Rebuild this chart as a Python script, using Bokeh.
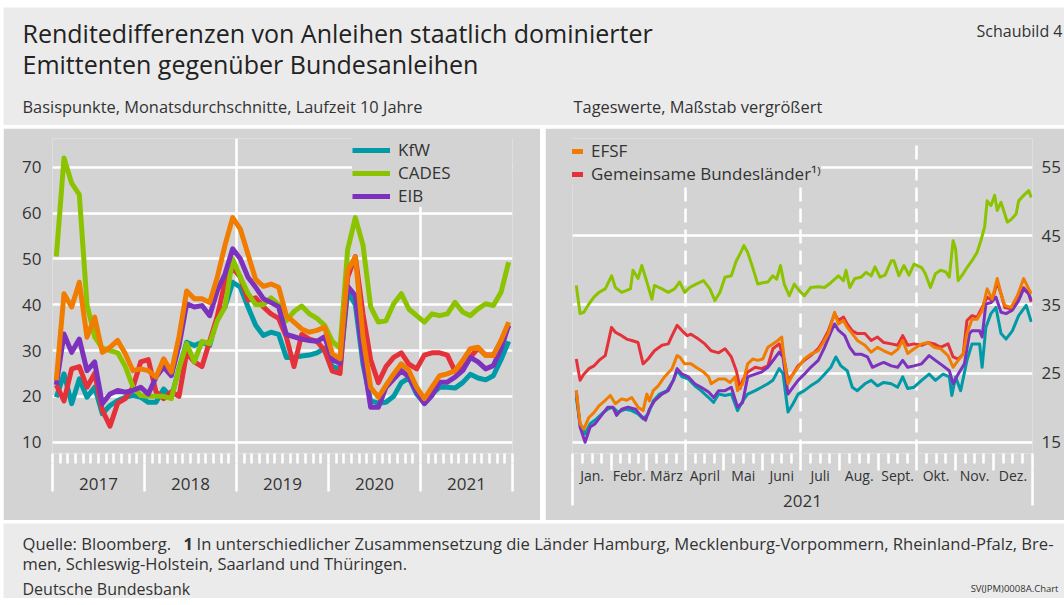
import pandas as pd
from bokeh.plotting import figure
from bokeh.models import (Range1d, FixedTicker, LinearAxis, Label, Spacer,
                          Legend, LegendItem, CustomJSTickFormatter)
from bokeh.layouts import column, row
from bokeh.embed import file_html
from bokeh.resources import INLINE

# ---------------- left panel: monthly averages, Jan 2017 - Dec 2021 (basis points) ----------------
kfw_m = [19.8, 24.9, 18.4, 23.8, 19.8, 22.0, 16.2, 18.0, 19.1, 19.8,
         20.2, 19.8, 18.7, 18.7, 21.6, 19.8, 26.0, 31.8, 31.1, 31.8,
         31.1, 37.3, 39.5, 44.9, 43.8, 39.5, 35.5, 33.3, 34.0, 33.5,
         28.5, 28.5, 28.8, 29.0, 29.5, 30.5, 26.5, 26.0, 43.0, 40.0,
         27.0, 19.0, 18.5, 18.7, 20.0, 23.0, 24.0, 20.5, 18.5, 20.5,
         22.0, 22.0, 21.8, 23.0, 24.8, 24.0, 23.6, 24.5, 28.0, 32.0]
cades_m = [50.5, 72.0, 66.5, 64.0, 40.0, 33.0, 30.5, 30.0, 29.5, 26.5,
           22.0, 20.2, 20.0, 20.0, 20.0, 19.5, 26.0, 31.5, 27.5, 32.0,
           31.5, 36.5, 39.5, 50.0, 46.0, 42.5, 40.0, 40.0, 41.5, 40.0,
           36.5, 38.5, 39.7, 38.0, 37.0, 35.5, 32.0, 30.5, 52.0, 59.0,
           53.0, 39.5, 36.2, 36.5, 40.2, 42.4, 39.0, 37.6, 36.2, 38.0,
           37.6, 38.0, 40.5, 38.4, 37.6, 39.1, 40.2, 39.8, 42.7, 49.3]
eib_m = [22.5, 33.6, 29.6, 32.5, 25.6, 27.5, 18.4, 20.5, 21.3, 20.9,
         21.3, 22.0, 20.5, 24.2, 26.4, 24.5, 31.0, 40.2, 39.5, 39.8,
         37.6, 43.1, 46.7, 52.2, 50.0, 46.0, 43.8, 41.3, 40.5, 39.5,
         33.5, 33.0, 32.5, 32.2, 32.0, 33.0, 28.0, 27.2, 44.0, 42.0,
         28.5, 17.6, 17.6, 22.0, 23.8, 25.6, 24.2, 20.9, 18.4, 20.2,
         23.1, 23.1, 24.2, 25.6, 28.5, 27.5, 26.0, 26.7, 30.4, 35.5]
efsf_m = [23.5, 42.4, 39.5, 44.9, 32.9, 37.3, 29.6, 30.7, 32.2, 29.3,
          25.6, 26.0, 25.6, 24.2, 28.2, 25.3, 33.0, 43.0, 41.3, 41.3,
          40.5, 46.0, 53.0, 59.0, 56.5, 51.0, 45.5, 44.0, 44.5, 43.8,
          37.6, 36.2, 34.7, 34.0, 34.4, 35.1, 29.3, 28.2, 47.5, 50.4,
          33.0, 22.0, 19.8, 22.4, 24.9, 27.1, 25.6, 22.0, 19.5, 22.0,
          24.5, 24.9, 25.6, 27.8, 30.4, 30.7, 28.9, 28.9, 32.2, 36.2]
gb_m = [22.5, 19.0, 26.0, 26.5, 22.0, 25.0, 17.0, 13.5, 18.5, 19.5,
        22.0, 27.5, 28.0, 21.0, 19.5, 21.0, 20.0, 29.5, 27.5, 26.5,
        32.0, 37.5, 45.0, 48.0, 46.0, 41.0, 41.5, 39.5, 38.0, 37.0,
        33.0, 26.5, 33.5, 32.5, 32.0, 30.0, 25.5, 25.0, 46.0, 50.5,
        38.0, 28.0, 23.0, 26.5, 28.5, 29.5, 27.0, 26.0, 29.0, 29.5,
        29.5, 29.0, 25.5, 26.0, 28.5, 30.5, 29.0, 29.0, 32.0, 35.5]
year_labels = ["2017", "2018", "2019", "2020", "2021"]
left_yticks = [10, 20, 30, 40, 50, 60, 70]

# ---------------- right panel: daily values 2021 (day of year, basis points) ----------------
kfw_day = [3, 6, 10, 14, 19, 25, 28, 32, 36, 42, 47, 52, 56, 60, 64, 69, 75, 80, 83, 87,
           92, 97, 102, 108, 112, 116, 121, 126, 131, 135, 139, 145, 150, 155, 159, 164, 167, 171, 175, 179,
           184, 189, 195, 200, 205, 209, 213, 218, 222, 226, 232, 237, 242, 247, 253, 258, 262, 266, 271, 277,
           283, 288, 294, 299, 301, 304, 308, 313, 317, 323, 325, 328, 332, 336, 340, 344, 349, 354, 360, 364]
kfw_d = [21.5, 17.7, 16.2, 17.7, 18.4, 19.4, 19.8, 20.1, 19.4, 19.8, 19.6, 19.1, 18.4, 19.1, 21.0, 22.0, 22.5, 24.0, 25.4, 24.5,
         24.2, 23.2, 22.5, 21.5, 20.8, 22.0, 21.8, 22.0, 19.6, 21.0, 22.0, 22.5, 23.0, 23.5, 24.0, 25.7, 25.0, 19.4, 20.6, 22.0,
         22.5, 23.2, 23.9, 24.9, 25.9, 27.4, 26.1, 25.4, 23.0, 22.5, 23.5, 24.0, 23.2, 23.7, 23.5, 23.0, 24.5, 22.8, 23.0, 24.0,
         24.9, 24.0, 24.9, 24.5, 21.8, 24.5, 22.5, 26.9, 29.3, 29.3, 25.9, 31.7, 33.7, 34.6, 30.8, 30.0, 31.2, 33.4, 34.9, 32.5]
cades_day = [3, 6, 9, 13, 17, 21, 26, 31, 34, 39, 46, 48, 52, 55, 59, 63, 65, 71, 76, 81,
             85, 89, 93, 98, 104, 109, 113, 117, 121, 126, 130, 133, 136, 139, 143, 147, 151, 155, 159, 162,
             165, 168, 172, 176, 180, 184, 189, 195, 200, 205, 211, 215, 217, 220, 224, 229, 233, 237, 240, 244,
             248, 253, 255, 259, 263, 267, 271, 277, 280, 284, 288, 292, 296, 299, 302, 304, 306, 310, 313, 317,
             321, 324, 327, 329, 332, 335, 337, 340, 343, 345, 348, 352, 354, 358, 362, 364]
cades_d = [37.8, 33.7, 33.9, 35.1, 36.1, 36.8, 37.3, 39.2, 37.5, 36.8, 37.3, 40.0, 38.8, 40.7, 38.3, 35.8, 37.8, 37.3, 36.8, 37.3,
           38.3, 36.8, 37.5, 38.0, 38.5, 37.3, 35.6, 36.8, 39.0, 39.2, 41.4, 42.4, 43.6, 42.6, 40.4, 38.0, 38.2, 38.3, 39.2, 38.7,
           40.7, 38.0, 36.3, 38.0, 37.0, 36.3, 37.5, 37.6, 37.5, 38.2, 39.2, 38.5, 40.0, 37.5, 38.8, 39.0, 39.7, 39.2, 40.5, 39.0,
           39.3, 41.4, 41.4, 39.2, 40.7, 39.3, 40.9, 40.4, 39.5, 37.5, 39.5, 40.0, 39.8, 39.0, 44.3, 43.1, 38.5, 39.5, 40.4, 41.4,
           42.6, 44.3, 46.3, 50.1, 49.4, 50.9, 48.7, 49.9, 48.2, 47.0, 47.4, 48.2, 50.1, 50.9, 51.6, 50.6]
eib_day = [3, 6, 10, 14, 18, 23, 28, 32, 35, 39, 44, 50, 54, 58, 61, 65, 71, 76, 80, 83,
           87, 92, 97, 102, 108, 112, 116, 121, 126, 131, 135, 139, 145, 150, 155, 160, 164, 167, 171, 175,
           179, 184, 189, 195, 200, 205, 208, 211, 216, 220, 224, 229, 234, 238, 244, 247, 253, 258, 262, 266,
           271, 277, 283, 288, 294, 299, 302, 306, 311, 315, 317, 323, 325, 328, 332, 336, 340, 344, 349, 354,
           358, 362, 364]
eib_d = [22.5, 17.2, 15.0, 17.2, 17.7, 18.9, 20.1, 20.1, 18.9, 19.8, 20.1, 19.8, 18.9, 18.2, 19.8, 21.0, 22.0, 22.5, 24.0, 25.7,
         24.9, 24.5, 23.5, 23.0, 22.3, 21.5, 22.5, 22.5, 23.0, 20.1, 20.8, 24.5, 24.9, 25.2, 25.9, 27.1, 28.1, 27.4, 22.0, 23.0,
         24.0, 24.9, 25.9, 26.9, 28.8, 31.0, 32.2, 31.3, 30.5, 28.8, 27.8, 27.8, 27.4, 25.9, 26.4, 26.6, 26.1, 25.9, 26.9, 25.9,
         26.1, 26.4, 27.6, 26.9, 26.1, 25.4, 23.5, 24.9, 26.4, 30.8, 31.2, 31.2, 30.3, 35.1, 35.3, 36.1, 33.9, 33.7, 34.2, 35.6,
         37.3, 36.6, 35.6]
efsf_day = [3, 6, 9, 13, 17, 21, 26, 30, 34, 39, 43, 47, 52, 56, 59, 61, 64, 68, 73, 79,
            83, 85, 89, 94, 98, 104, 108, 110, 116, 121, 125, 129, 131, 135, 139, 143, 147, 151, 155, 159,
            163, 166, 168, 171, 175, 179, 184, 189, 195, 199, 203, 208, 211, 215, 218, 222, 226, 232, 237, 242,
            247, 253, 258, 262, 266, 271, 277, 282, 287, 292, 298, 302, 306, 310, 313, 317, 321, 325, 329, 333,
            337, 340, 343, 348, 353, 358, 362, 364]
efsf_d = [22.5, 17.7, 16.9, 18.6, 19.3, 20.3, 21.1, 21.8, 20.6, 21.3, 21.1, 21.5, 20.1, 19.6, 22.0, 21.0, 22.5, 23.2, 24.5, 25.7,
          27.6, 27.4, 26.4, 26.4, 25.9, 25.2, 24.5, 23.5, 24.2, 24.2, 23.7, 24.5, 22.5, 23.5, 26.4, 27.1, 26.9, 27.1, 28.8, 29.3,
          29.8, 30.3, 27.0, 23.5, 24.9, 25.9, 27.1, 27.8, 28.3, 29.5, 30.8, 33.9, 32.2, 32.7, 31.7, 30.8, 29.8, 29.1, 28.1, 28.8,
          28.3, 27.8, 28.5, 29.8, 27.9, 28.6, 29.3, 29.5, 28.8, 28.6, 27.6, 25.9, 26.9, 27.8, 30.8, 32.9, 32.9, 34.1, 37.3, 35.8,
          38.8, 36.6, 34.9, 34.6, 36.3, 38.8, 37.3, 36.6]
gb_day = [3, 6, 9, 13, 17, 21, 26, 31, 34, 39, 43, 47, 52, 56, 60, 65, 71, 76, 79, 83,
          87, 91, 94, 100, 105, 110, 116, 121, 126, 130, 133, 135, 139, 145, 150, 155, 159, 164, 168, 171,
          175, 179, 184, 189, 195, 199, 203, 208, 211, 215, 218, 222, 226, 232, 237, 242, 247, 253, 258, 262,
          266, 271, 277, 282, 287, 292, 298, 302, 306, 310, 313, 317, 321, 325, 329, 333, 337, 340, 343, 348,
          353, 358, 362, 364]
gb_d = [27.1, 24.0, 24.9, 25.7, 26.1, 26.9, 27.6, 31.7, 31.0, 30.5, 30.0, 29.8, 29.5, 26.4, 27.1, 28.3, 29.1, 29.3, 30.5, 32.0,
        31.2, 30.5, 30.7, 30.0, 29.3, 28.3, 28.0, 28.6, 27.4, 25.4, 22.8, 24.0, 25.2, 25.9, 25.7, 26.1, 28.6, 29.3, 27.0, 24.0,
        24.9, 26.1, 26.9, 27.6, 28.6, 29.8, 31.2, 33.7, 32.7, 33.2, 32.2, 31.2, 30.8, 30.8, 29.8, 30.3, 29.5, 29.3, 29.1, 30.5,
        29.1, 29.3, 29.1, 29.5, 29.3, 28.8, 29.3, 27.4, 27.1, 27.8, 32.7, 33.4, 33.2, 34.6, 36.1, 35.6, 38.3, 36.6, 34.6, 34.4,
        35.6, 37.5, 36.6, 35.4]
month_names = ["Jan.", "Febr.", "März", "April", "Mai", "Juni", "Juli", "Aug.", "Sept.", "Okt.", "Nov.", "Dez."]
month_starts = [0, 31, 59, 90, 120, 151, 181, 212, 243, 273, 304, 334, 365]
right_year = "2021"
right_yticks = [15, 25, 35, 45, 55]

# ---------------- styling ----------------
FONT = "Open Sans"
TXT = "#333333"
PANEL = "#d3d3d3"
LIGHT = "#ebebeb"
C_KFW, C_CADES, C_EIB, C_EFSF, C_GB = "#009aa6", "#8cc300", "#7d32be", "#f07c00", "#e5323a"
W = 1061
HDR_H, PAN_H, FTR_H, GAP = 118, 392, 75, 3
LEFT_W, RIGHT_W, MID_GAP = 537, 519, 5
TOP, BOTTOM = 10, 67          # frame margins inside the panels


def bare(width, height):
    p = figure(width=width, height=height, x_range=Range1d(0, 1), y_range=Range1d(0, 1),
               output_backend="svg", toolbar_location=None, min_border=0,
               x_axis_location=None, y_axis_location=None,
               background_fill_color=LIGHT, border_fill_color=LIGHT, outline_line_color=None)
    p.grid.visible = False
    return p


def txt(p, x, y, text, size, align="left", bold=False, color=TXT):
    p.add_layout(Label(x=x, y=y, x_units="screen", y_units="screen", text=text,
                       text_font=FONT, text_font_size=size, text_color=color,
                       text_align=align, text_baseline="middle",
                       text_font_style="bold" if bold else "normal"))


def tick_axis(ax, ticks, minor, major_out, minor_out):
    """axis that only draws white tick marks (no labels, no line)"""
    ax.ticker = FixedTicker(ticks=ticks, minor_ticks=minor)
    ax.major_tick_out, ax.major_tick_in = major_out, 0
    ax.minor_tick_out, ax.minor_tick_in = minor_out, 0
    ax.major_tick_line_color = "white"
    ax.minor_tick_line_color = "white"
    ax.major_tick_line_width = 2.5
    ax.minor_tick_line_width = 2.5
    ax.major_label_text_font_size = "0px"
    ax.major_label_standoff = 0
    ax.formatter = CustomJSTickFormatter(code="return ''")
    ax.axis_line_color = None


def label_axis(positions, labels, size, standoff, long_ticks=(), long_out=0):
    """axis whose major ticks (invisible) carry centred text labels; optional long minor ticks"""
    ax = LinearAxis(ticker=FixedTicker(ticks=list(positions), minor_ticks=list(long_ticks)),
                    major_tick_out=0, major_tick_in=0, major_tick_line_color=None,
                    minor_tick_out=long_out, minor_tick_in=0, minor_tick_line_color="white",
                    minor_tick_line_width=2.5, axis_line_color=None,
                    major_label_standoff=standoff, major_label_text_font=FONT,
                    major_label_text_font_size=size, major_label_text_color=TXT,
                    formatter=CustomJSTickFormatter(
                        args=dict(pos=list(positions), labs=list(labels)),
                        code="""
                        let b = 0;
                        for (let i = 0; i < pos.length; i++)
                          if (Math.abs(pos[i] - tick) < Math.abs(pos[b] - tick)) b = i;
                        return labs[b];"""))
    return ax


def style_yaxis(ax, ticks, standoff):
    ax.ticker = FixedTicker(ticks=ticks)
    ax.major_tick_out = ax.major_tick_in = 0
    ax.minor_tick_line_color = None
    ax.axis_line_color = None
    ax.major_label_standoff = standoff
    ax.major_label_text_font = FONT
    ax.major_label_text_font_size = "17px"
    ax.major_label_text_color = TXT


# ---------------- header ----------------
hdr = bare(W, HDR_H)
txt(hdr, 19, 93, "Renditedifferenzen von Anleihen staatlich dominierter", "25px", color="#222222")
txt(hdr, 19, 62, "Emittenten gegenüber Bundesanleihen", "25px", color="#222222")
txt(hdr, 1059, 95, "Schaubild 4", "16px", align="right")
txt(hdr, 19, 19, "Basispunkte, Monatsdurchschnitte, Laufzeit 10 Jahre", "16.4px")
txt(hdr, 570, 19, "Tageswerte, Maßstab vergrößert", "16.4px")

# ---------------- left panel ----------------
months = pd.date_range("2017-01-01", periods=len(kfw_m), freq="MS")
xm = list(months.year + (months.month - 0.5) / 12)
yrs = [int(y) for y in year_labels] + [int(year_labels[-1]) + 1]

left = figure(width=LEFT_W, height=PAN_H, x_range=Range1d(yrs[0], yrs[-1]), y_range=Range1d(7.53, 76.26),
              output_backend="svg", toolbar_location=None,
              min_border_left=49, min_border_right=28, min_border_top=TOP, min_border_bottom=BOTTOM,
              background_fill_color=PANEL, border_fill_color=PANEL, outline_line_color=None)
month_bounds = [yrs[0] + k / 12 for k in range(12 * len(year_labels) + 1)]
tick_axis(left.xaxis[0], month_bounds, [], 10, 0)
left.add_layout(label_axis([y + 0.5 for y in yrs[:-1]], year_labels, "17px", -14,
                           long_ticks=yrs, long_out=28), "below")
style_yaxis(left.yaxis[0], left_yticks, 11)
left.xgrid.ticker = FixedTicker(ticks=[2019, 2021])
left.ygrid.ticker = FixedTicker(ticks=left_yticks)
left.grid.grid_line_color = "white"
left.grid.grid_line_width = 2.5

lw = 5
r_kfw = left.line(xm, kfw_m, line_color=C_KFW, line_width=lw, line_join="round")
r_gb = left.line(xm, gb_m, line_color=C_GB, line_width=lw, line_join="round")
r_cades = left.line(xm, cades_m, line_color=C_CADES, line_width=lw, line_join="round")
r_eib = left.line(xm, eib_m, line_color=C_EIB, line_width=lw, line_join="round")
r_efsf = left.line(xm, efsf_m, line_color=C_EFSF, line_width=lw, line_join="round")

leg_kw = dict(orientation="vertical", glyph_width=38, glyph_height=20, label_height=20,
              label_standoff=8, spacing=0, padding=5, margin=0,
              label_text_font=FONT, label_text_font_size="17px", label_text_color=TXT,
              background_fill_color=PANEL, background_fill_alpha=1.0, border_line_color=None,
              inactive_fill_alpha=0.0)
left.add_layout(Legend(items=[LegendItem(label="KfW", renderers=[r_kfw]),
                              LegendItem(label="CADES", renderers=[r_cades]),
                              LegendItem(label="EIB", renderers=[r_eib])],
                       location=(300, 246), label_width=130, **leg_kw))

# ---------------- right panel ----------------
right = figure(width=RIGHT_W, height=PAN_H, x_range=Range1d(month_starts[0], month_starts[-1]),
               y_range=Range1d(13.36, 59.17),
               y_axis_location="right", output_backend="svg", toolbar_location=None,
               min_border_left=27, min_border_right=32, min_border_top=TOP, min_border_bottom=BOTTOM,
               background_fill_color=PANEL, border_fill_color=PANEL, outline_line_color=None)
weeks = [month_starts[i] + k * (month_starts[i + 1] - month_starts[i]) / 4
         for i in range(12) for k in range(1, 4)]
tick_axis(right.xaxis[0], month_starts, weeks, 17, 10)
mids = [(month_starts[i] + month_starts[i + 1]) / 2 for i in range(12)]
right.add_layout(label_axis(mids, month_names, "14px", -40,
                            long_ticks=[month_starts[0], month_starts[-1]], long_out=35), "below")
right.add_layout(label_axis([(month_starts[0] + month_starts[-1]) / 2], [right_year], "17px", 7), "below")
style_yaxis(right.yaxis[0], right_yticks, 9)
right.xgrid.ticker = FixedTicker(ticks=[month_starts[3], month_starts[6], month_starts[9]])
right.xgrid.grid_line_dash = "14 7"
right.ygrid.ticker = FixedTicker(ticks=right_yticks)
right.grid.grid_line_color = "white"
right.grid.grid_line_width = 2.5

rw = 3
right.line(kfw_day, kfw_d, line_color=C_KFW, line_width=rw, line_join="round")
right.line(gb_day, gb_d, line_color=C_GB, line_width=rw, line_join="round")
right.line(cades_day, cades_d, line_color=C_CADES, line_width=rw, line_join="round")
right.line(eib_day, eib_d, line_color=C_EIB, line_width=rw, line_join="round")
right.line(efsf_day, efsf_d, line_color=C_EFSF, line_width=rw, line_join="round")

# legend swatches for the second legend column (single point -> draws no visible line)
s_efsf = right.line(x=efsf_day[:1], y=efsf_d[:1], line_color=C_EFSF, line_width=lw)
s_gb = right.line(x=gb_day[:1], y=gb_d[:1], line_color=C_GB, line_width=lw)
right.add_layout(Legend(items=[LegendItem(label="EFSF", renderers=[s_efsf]),
                               LegendItem(label="Gemeinsame Bundesländer\u00b9\u207e", renderers=[s_gb])],
                        location=(-27, 268), **leg_kw))

# ---------------- footer ----------------
ftr = bare(W, FTR_H)
txt(ftr, 19, 55, "Quelle: Bloomberg.", "16.6px")
txt(ftr, 180, 55, "1", "16.6px", bold=True)
txt(ftr, 193, 55, "In unterschiedlicher Zusammensetzung die Länder Hamburg, Mecklenburg-Vorpommern, "
                  "Rheinland-Pfalz, Bre-", "16.6px")
txt(ftr, 19, 35, "men, Schleswig-Holstein, Saarland und Thüringen.", "16.5px")
txt(ftr, 19, 10, "Deutsche Bundesbank", "16px")
txt(ftr, 1055, 10, "SV(JPM)0008A.Chart", "9.5px", align="right")

body = column(hdr, row(left, right, spacing=MID_GAP), ftr, spacing=GAP)
page = column(Spacer(height=7), row(Spacer(width=3), body))
open("out.html", "w").write(file_html(page, INLINE))
